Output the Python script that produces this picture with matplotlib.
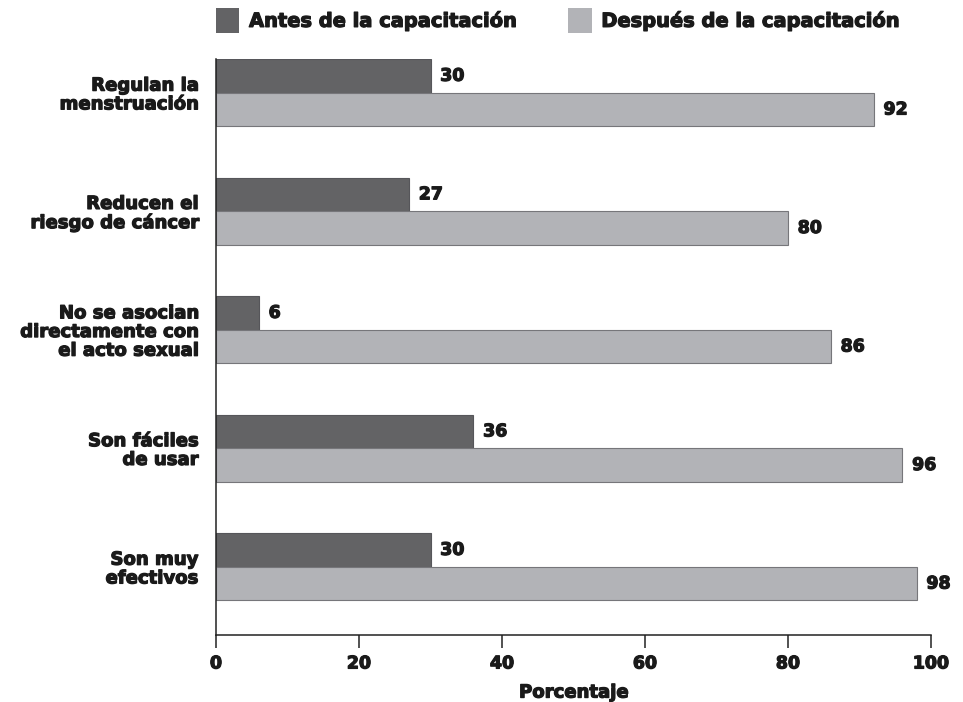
import matplotlib
matplotlib.use("Agg")
import matplotlib.pyplot as plt
import matplotlib.patheffects as pe
from matplotlib.patches import Patch
import numpy as np

# Data
categories = [
    "Regulan la\nmenstruación",
    "Reducen el\nriesgo de cáncer",
    "No se asocian\ndirectamente con\nel acto sexual",
    "Son fáciles\nde usar",
    "Son muy\nefectivos",
]
antes = [30, 27, 6, 36, 30]
despues = [92, 80, 86, 96, 98]
series_names = ["Antes de la capacitación", "Después de la capacitación"]
x_ticks = [0, 20, 40, 60, 80, 100]

# Style
DARK = "#636365"
DARK_EDGE = "#56565a"
LIGHT = "#b2b3b7"
LIGHT_EDGE = "#76767a"
TEXT = "#1a1a1a"
HEAVY = [pe.withStroke(linewidth=0.9, foreground=TEXT)]
plt.rcParams["font.family"] = ["DejaVu Sans"]
plt.rcParams["font.weight"] = "bold"

fig = plt.figure(figsize=(9.63, 7.02), dpi=100)
W, H = 963, 702
ax = fig.add_axes([216 / W, (H - 635) / H, (931 - 216) / W, (635 - 59) / H])

pos = np.arange(len(categories))
h = 0.284
b1 = ax.barh(pos - h / 2, antes, height=h, color=DARK, edgecolor=DARK_EDGE,
             linewidth=0.8, zorder=2)
b2 = ax.barh(pos + h / 2, despues, height=h, color=LIGHT, edgecolor=LIGHT_EDGE,
             linewidth=0.8, zorder=2)

for bars, vals in ((b1, antes), (b2, despues)):
    for rect, v in zip(bars, vals):
        ax.annotate(f"{v}", xy=(v, rect.get_y() + rect.get_height() / 2),
                    xytext=(7, 0), textcoords="offset points",
                    ha="left", va="center", fontsize=12.5, fontweight="bold",
                    color=TEXT, path_effects=HEAVY)

ax.set_xlim(0, 100)
ax.set_ylim(len(categories) - 1 + 0.576, -h)

ax.set_yticks(pos)
ax.set_yticklabels(categories, fontsize=13, fontweight="bold", color=TEXT,
                   linespacing=1.05, ha="right")
ax.tick_params(axis="y", length=0, pad=13)

ax.set_xticks(x_ticks)
ax.set_xticklabels([str(t) for t in x_ticks], fontsize=12.5,
                   fontweight="bold", color=TEXT)
ax.tick_params(axis="x", direction="out", length=9, width=1.1, pad=5,
               color="#222222")

ax.set_xlabel("Porcentaje", fontsize=13, fontweight="bold", color=TEXT,
              labelpad=8)

for lbl in ax.get_yticklabels() + ax.get_xticklabels() + [ax.xaxis.label]:
    lbl.set_path_effects(HEAVY)

for s in ("top", "right"):
    ax.spines[s].set_visible(False)
for s in ("left", "bottom"):
    ax.spines[s].set_color("#222222")
    ax.spines[s].set_linewidth(1.1)

handles = [Patch(facecolor=DARK, edgecolor="none"),
           Patch(facecolor=LIGHT, edgecolor="none")]
leg = fig.legend(handles, series_names, loc="upper left",
                 bbox_to_anchor=(216 / W, 1 - 8 / H), ncol=2, frameon=False,
                 prop={"size": 14, "weight": "bold"}, labelcolor=TEXT,
                 handlelength=1.2, handleheight=1.6, handletextpad=0.5,
                 columnspacing=2.6, borderpad=0, borderaxespad=0)
for t in leg.get_texts():
    t.set_path_effects(HEAVY)

fig.savefig("out.png", dpi=100)
